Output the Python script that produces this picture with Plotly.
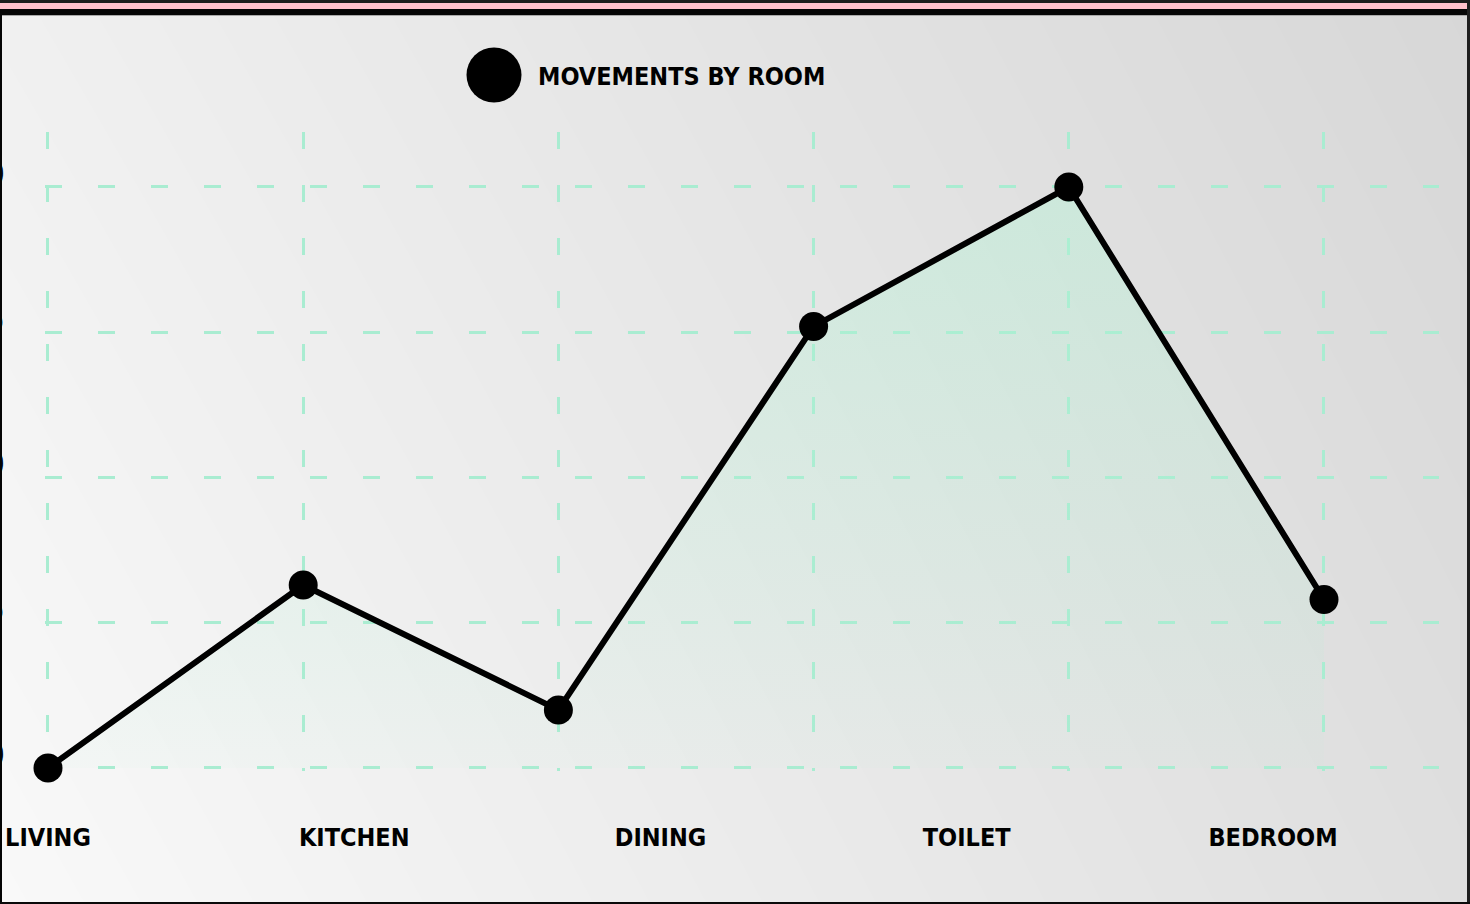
import plotly.graph_objects as go

# ---- data ----
rooms = ["LIVING", "KITCHEN", "DINING", "TOILET", "BEDROOM"]
movements = [0, 6.3, 2, 15.2, 20, 5.8]
y_ticks = [0, 5, 10, 15, 20]
series_name = "MOVEMENTS BY ROOM"

W, H = 1470, 904
FONT = "DejaVu Sans Condensed, DejaVu Sans, sans-serif"
GRID = "#a9ecd1"

def px(x):
    return x / W

def py(y):
    return 1 - y / H

n_pts = len(movements)
point_x = list(range(n_pts))
label_x = [i * n_pts / len(rooms) for i in range(len(rooms))]

X_RANGE = [-0.01, 5.45]
Y_RANGE = [-0.1, 21.9]
UX, UY = 255.2, 29.05          # px per unit
X0PX, Y0PX = 48, 768           # pixel of value 0

fig = go.Figure()

# background gradient (full-page subplot)
fig.add_trace(go.Heatmap(
    x=[0, 1], y=[0, 1], z=[[249, 223], [240, 215]],
    zmin=215, zmax=249, zsmooth="best", showscale=False, hoverinfo="skip",
    colorscale=[[0, "rgb(215,215,215)"], [1, "rgb(249,249,249)"]],
    xaxis="x", yaxis="y",
))

# main line
fig.add_trace(go.Scatter(
    x=point_x, y=movements, name=series_name,
    mode="lines+markers",
    line=dict(color="black", width=6),
    marker=dict(color="black", size=29),
    fill="tozeroy",
    fillgradient=dict(type="vertical", start=0, stop=max(movements),
                      colorscale=[[0, "rgba(175,240,210,0.05)"],
                                  [1, "rgba(175,245,212,0.40)"]]),
    cliponaxis=False, showlegend=False,
    xaxis="x2", yaxis="y2",
))

# carrier for the category label axis
fig.add_trace(go.Scatter(
    x=label_x, y=[0] * len(label_x), mode="none", showlegend=False,
    hoverinfo="skip", xaxis="x3", yaxis="y2",
))

x_dom = [px(X0PX + X_RANGE[0] * UX), px(X0PX + X_RANGE[1] * UX)]
y_dom = [py(Y0PX - Y_RANGE[0] * UY), py(Y0PX - Y_RANGE[1] * UY)]

fig.update_layout(
    width=W, height=H, autosize=False,
    margin=dict(l=0, r=0, t=0, b=0, autoexpand=False),
    paper_bgcolor="#eeeeee", plot_bgcolor="rgba(0,0,0,0)",
    showlegend=False,
    xaxis=dict(domain=[0, 1], range=[0, 1], visible=False, fixedrange=True,
               automargin=False),
    yaxis=dict(domain=[0, 1], range=[0, 1], visible=False, fixedrange=True,
               automargin=False),
    xaxis2=dict(domain=x_dom, range=X_RANGE, anchor="y2",
                tickvals=point_x, showticklabels=False, automargin=False,
                showgrid=True, gridcolor=GRID, gridwidth=2.5, griddash="17px,36px",
                zeroline=False, showline=False, ticks=""),
    xaxis3=dict(overlaying="x2", anchor="y2", side="bottom", range=X_RANGE,
                tickvals=label_x, ticktext=rooms, showgrid=False, zeroline=False,
                showline=False, ticks="", ticklabelstandoff=49, automargin=False,
                ticklabeloverflow="allow",
                tickfont=dict(family=FONT, size=25, color="black", weight="bold")),
    yaxis2=dict(domain=y_dom, range=Y_RANGE, anchor="x2",
                tickvals=y_ticks, showgrid=True, gridcolor=GRID, gridwidth=2.5,
                griddash="17px,36px", zeroline=False, showline=False, ticks="",
                ticklabelstandoff=40, ticklabelshift=-14, automargin=False,
                ticklabeloverflow="allow",
                tickfont=dict(family=FONT, size=36, color="black", weight="bold")),
)

# legend (large circle + text)
fig.add_shape(type="circle", xref="paper", yref="paper",
              x0=px(466.5), x1=px(521.5), y0=py(102.5), y1=py(47.5),
              fillcolor="black", line=dict(width=0))
fig.add_annotation(xref="paper", yref="paper", x=px(536), y=py(76),
                   xanchor="left", yanchor="middle", showarrow=False,
                   text=series_name,
                   font=dict(family=FONT, size=25, color="black", weight="bold"))

# frame decorations
def rect(x0, y0, x1, y1, color):
    fig.add_shape(type="rect", xref="paper", yref="paper", layer="above",
                  x0=px(x0), x1=px(x1), y0=py(y1), y1=py(y0),
                  fillcolor=color, line=dict(width=0))

rect(0, 0, W, 3, "#1c1c1c")
rect(0, 3, 1467, 9, "#ffc0cb")
rect(0, 9, 1467, 15, "#050505")
rect(0, 15, 1467, 16, "#a8a8a8")
rect(0, 15, 2, H, "#050505")
rect(1467, 3, W, H, "#1e1e1e")
rect(0, 902, W, H, "#0a0a0a")

fig.write_html("out.html")
